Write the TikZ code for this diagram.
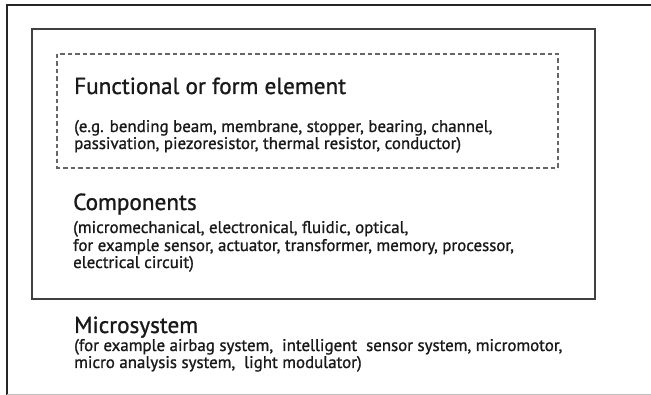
\documentclass[tikz,border=0pt]{standalone}
\usepackage{fontspec}
\setmainfont[FakeBold=1.1]{PT Sans}
\begin{document}
\begin{tikzpicture}[x=1pt,y=-1pt,
  heading/.style={anchor=base west,inner sep=0pt,font=\fontsize{23.2}{27}\selectfont,text=black!90},
  detail/.style={anchor=base west,inner sep=0pt,font=\fontsize{16.9}{18}\selectfont,text=black!90},
  framebox/.style={draw=black!75,line width=1.3pt},
  dashbox/.style={draw=black!60,line width=1.1pt,dash pattern=on 4.5pt off 3pt}]
\useasboundingbox (0,0) rectangle (651,395);
% outer frame (microsystem)
\draw[line width=2pt,black!85] (7,395) -- (7,5) -- (651,5);
\draw[line width=0.8pt,black!25] (7,394) -- (651,394);
% component box
\draw[framebox] (32,29) rectangle (595,299);
% functional element box
\draw[dashbox] (57,54) rectangle (558,168);
% labels
\node[heading] (fe) at (74,94) {Functional or form element};
\node[detail] (fe1) at (74,132) {(e.g. bending beam, membrane, stopper, bearing, channel,};
\node[detail] (fe2) at (74,149) {passivation, piezoresistor, thermal resistor, conductor)};
\node[heading] (co) at (73,210) {Components};
\node[detail] (co1) at (73,233) {(micromechanical, electronical, fluidic, optical,};
\node[detail] (co2) at (73,251) {for example sensor, actuator, transformer, memory, processor,};
\node[detail] (co3) at (73,268) {electrical circuit)};
\node[heading] (ms) at (74,333) {Microsystem};
\node[detail] (ms1) at (74,351) {(for example airbag system,\ \ intelligent\ \ sensor system, micromotor,};
\node[detail] (ms2) at (74,368) {micro analysis system,\ \ light modulator)};
\end{tikzpicture}
\end{document}
